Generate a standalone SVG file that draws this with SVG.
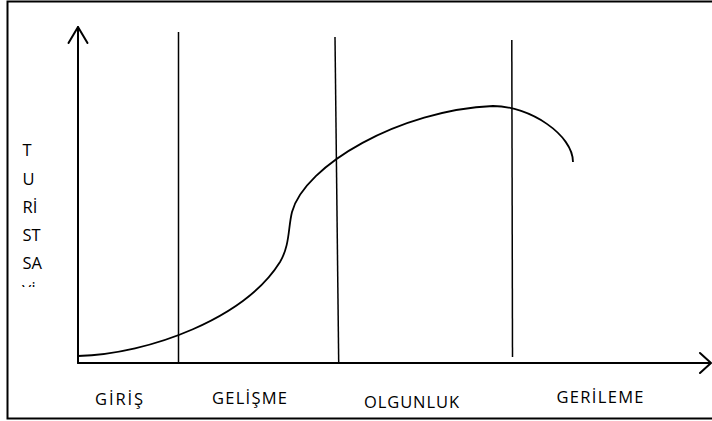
<svg xmlns="http://www.w3.org/2000/svg" width="712" height="421" viewBox="0 0 712 421">
<style>
.frame{stroke:#000;stroke-width:2;fill:none}
.axis{stroke:#000;stroke-width:2;fill:none;stroke-linecap:round;stroke-linejoin:round}
.div{stroke:#000;stroke-width:1.5;fill:none}
.curve{stroke:#000;stroke-width:1.8;fill:none}
text{font-family:"Open Sans","Noto Sans",sans-serif;font-size:16.5px;fill:#000}
</style>
<defs>
<clipPath id="clipY"><rect x="0" y="272" width="80" height="15"/></clipPath>
</defs>
<rect width="712" height="421" fill="#fff"/>
<g id="frame">
<polyline class="frame" points="712,1.5 7.5,1.5 7.5,418.5 712,418.5"/>
</g>
<g id="connectors">
<line class="axis" x1="78" y1="27" x2="78" y2="363"/>
<polyline class="axis" points="68.5,43 78,27 87.5,43"/>
<line class="axis" x1="78" y1="363" x2="710" y2="363"/>
<polyline class="axis" points="700,353 711,363 700,373"/>
<line class="div" x1="178.5" y1="32" x2="178.5" y2="363"/>
<line class="div" x1="335" y1="37" x2="338.7" y2="363"/>
<line class="div" x1="511.8" y1="40" x2="512.5" y2="357"/>
<path class="curve" d="M78,356 C150,354 245,318 280,262 C290,245 288,228 292,212 C305,165 400,110 493,106 C530,106 573,135 573,162"/>
</g>
<g id="yaxis-label">
<text x="22.5" y="156">T</text>
<text x="22.5" y="184.5">U</text>
<text x="22.5" y="212.5">Rİ</text>
<text x="22.5" y="241">ST</text>
<text x="22.5" y="268.5">SA</text>
<text x="22" y="297" clip-path="url(#clipY)">Yİ</text>
</g>
<g id="stage-giris"><text x="95" y="405" textLength="48" lengthAdjust="spacing">GİRİŞ</text></g>
<g id="stage-gelisme"><text x="212" y="404" textLength="75" lengthAdjust="spacing">GELİŞME</text></g>
<g id="stage-olgunluk"><text x="364" y="408" textLength="95" lengthAdjust="spacing">OLGUNLUK</text></g>
<g id="stage-gerileme"><text x="556.5" y="402.5" textLength="87" lengthAdjust="spacing">GERİLEME</text></g>
</svg>
